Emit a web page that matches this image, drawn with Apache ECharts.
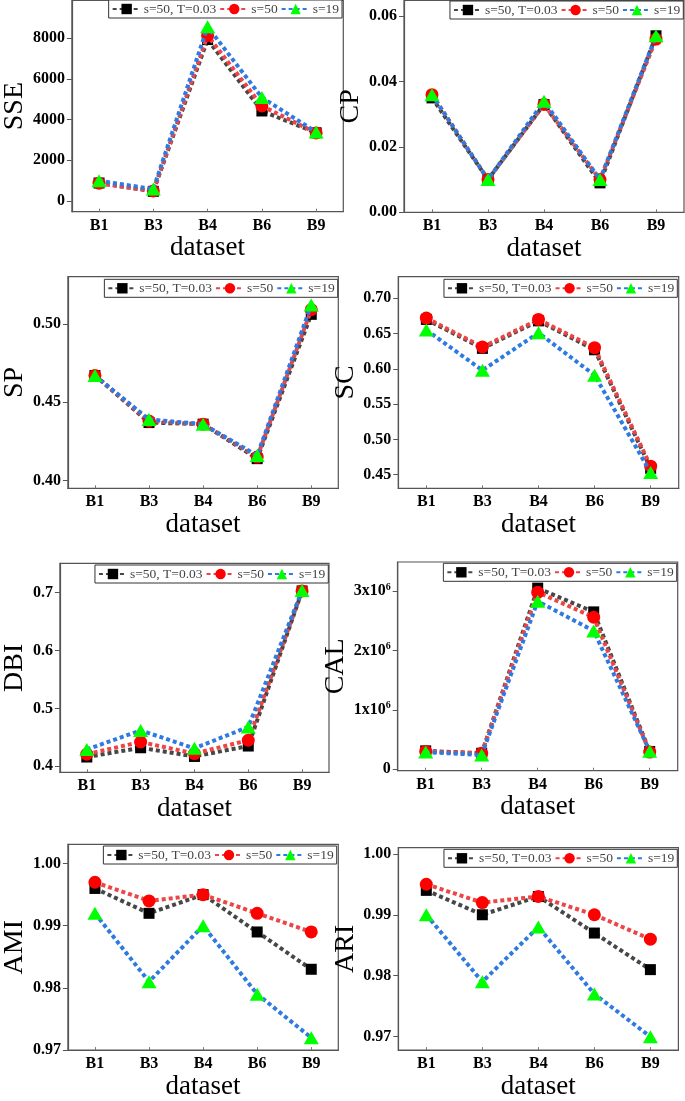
<!DOCTYPE html>
<html>
<head>
<meta charset="utf-8">
<script src="https://cdn.jsdelivr.net/npm/echarts@6/dist/echarts.min.js"></script>
<style>
html,body{margin:0;padding:0;background:#fff;}
#c{width:685px;height:1101px;}
</style>
</head>
<body>
<div id="c"></div>
<script>
const categories = ['B1','B3','B4','B6','B9'];
const seriesNames = ['s=50, T=0.03','s=50','s=19'];

const sseA = [880, 470, 7930, 4420, 3350];
const sseB = [870, 490, 8130, 4670, 3340];
const sseC = [990, 580, 8560, 5080, 3390];
const sseTicks = [0, 2000, 4000, 6000, 8000];

const cpA = [0.035, 0.010, 0.033, 0.009, 0.054];
const cpB = [0.036, 0.010, 0.033, 0.010, 0.053];
const cpC = [0.036, 0.010, 0.034, 0.010, 0.054];
const cpTicks = [0, 0.02, 0.04, 0.06];

const spA = [0.467, 0.437, 0.436, 0.414, 0.506];
const spB = [0.467, 0.438, 0.436, 0.415, 0.509];
const spC = [0.467, 0.439, 0.436, 0.416, 0.512];
const spTicks = [0.40, 0.45, 0.50];

const scA = [0.670, 0.629, 0.668, 0.627, 0.459];
const scB = [0.672, 0.631, 0.670, 0.630, 0.462];
const scC = [0.655, 0.598, 0.651, 0.591, 0.453];
const scTicks = [0.45, 0.50, 0.55, 0.60, 0.65, 0.70];

const dbiA = [0.416, 0.432, 0.417, 0.435, 0.703];
const dbiB = [0.421, 0.442, 0.422, 0.445, 0.703];
const dbiC = [0.429, 0.462, 0.431, 0.468, 0.704];
const dbiTicks = [0.4, 0.5, 0.6, 0.7];

const calA = [310000, 270000, 3050000, 2650000, 300000];
const calB = [300000, 270000, 2980000, 2560000, 290000];
const calC = [290000, 240000, 2830000, 2330000, 305000];
const calTicks = [0, 1000000, 2000000, 3000000];

const amiA = [0.996, 0.992, 0.995, 0.989, 0.983];
const amiB = [0.997, 0.994, 0.995, 0.992, 0.989];
const amiC = [0.992, 0.981, 0.990, 0.979, 0.972];
const amiTicks = [0.97, 0.98, 0.99, 1.00];

const ariA = [0.994, 0.990, 0.993, 0.987, 0.981];
const ariB = [0.995, 0.992, 0.993, 0.990, 0.986];
const ariC = [0.990, 0.979, 0.988, 0.977, 0.970];
const ariTicks = [0.97, 0.98, 0.99, 1.00];

const FONT = '"Liberation Serif","Times New Roman",serif';

const fix = d => v => v.toFixed(d);
const calFmt = v => v === 0 ? '{a|0}' : '{a|' + Math.round(v/1e6) + 'x10}{s|6}';

const panels = [
  {name:'SSE', data:[sseA,sseB,sseC], ticks:sseTicks, min:-530, max:9850, fmt:v=>String(v),
   grid:{left:57.3, top:0.5, right:343.3, bottom:211.7}, nameGap:33, legend:{right:343, top:0}},
  {name:'CP', data:[cpA,cpB,cpC], ticks:cpTicks, min:0, max:0.0648, fmt:fix(2),
   grid:{left:404, top:0.5, right:684, bottom:212.3}, nameGap:32, legend:{right:1.7, top:1}},
  {name:'SP', data:[spA,spB,spC], ticks:spTicks, min:0.3951, max:0.530, fmt:fix(2),
   grid:{left:57.3, top:276.7, right:338.3, bottom:488.3}, nameGap:29, legend:{right:347.3, top:279.3}},
  {name:'SC', data:[scA,scB,scC], ticks:scTicks, min:0.4307, max:0.7306, fmt:fix(2),
   grid:{left:398.3, top:276.7, right:678.7, bottom:488.3}, nameGap:30, legend:{right:7.7, top:279.3}},
  {name:'DBI', data:[dbiA,dbiB,dbiC], ticks:dbiTicks, min:0.3896, max:0.7508, fmt:fix(1),
   grid:{left:50.7, top:563.3, right:329, bottom:772.3}, nameGap:22, legend:{right:356.7, top:565}},
  {name:'CAL', data:[calA,calB,calC], ticks:calTicks, min:-24000, max:3490000, fmt:calFmt,
   grid:{left:397.7, top:562, right:677.7, bottom:770.7}, nameGap:37, legend:{right:8.3, top:563.3}},
  {name:'AMI', data:[amiA,amiB,amiC], ticks:amiTicks, min:0.97, max:1.0031, fmt:fix(2),
   grid:{left:57.7, top:844.3, right:338.3, bottom:1055.7}, nameGap:29, legend:{right:348.3, top:846}},
  {name:'ARI', data:[ariA,ariB,ariC], ticks:ariTicks, min:0.9678, max:1.001, fmt:fix(2),
   grid:{left:398.3, top:847.7, right:678.4, bottom:1056.7}, nameGap:29, legend:{right:7.7, top:849.3}}
];

const styles = [
  {line:'#474747', mark:'#000000', symbol:'rect', size:11},
  {line:'#ee4444', mark:'#ff0000', symbol:'circle', size:13},
  {line:'#2d7be2', mark:'#00ff00', symbol:'triangle', size:[15,13]}
];

const grids = [], xAxes = [], yAxes = [], series = [], legends = [];
panels.forEach((p, i) => {
  grids.push({
    left: p.grid.left, top: p.grid.top,
    width: p.grid.right - p.grid.left, height: p.grid.bottom - p.grid.top,
    show: true, borderColor: '#555', borderWidth: 1.2, backgroundColor: 'transparent'
  });
  xAxes.push({
    type: 'category', gridIndex: i, data: categories, boundaryGap: true,
    name: 'dataset', nameLocation: 'middle', nameGap: 22,
    nameTextStyle: {fontFamily: FONT, fontSize: 27, color: '#000'},
    axisLine: {onZero: false, lineStyle: {color: '#555', width: 1.2}},
    axisTick: {show: true, inside: true, length: 3, alignWithLabel: true, lineStyle: {color: '#777'}},
    axisLabel: {fontFamily: FONT, fontSize: 16, fontWeight: 'bold', color: '#000', margin: 6},
    splitLine: {show: false}
  });
  const rich = {
    a: {fontFamily: FONT, fontSize: 16, fontWeight: 'bold', color: '#000', lineHeight: 18},
    s: {fontFamily: FONT, fontSize: 10, fontWeight: 'bold', color: '#000', verticalAlign: 'top', lineHeight: 18, padding:[0,0,6,0]}
  };
  yAxes.push({
    type: 'value', gridIndex: i, min: p.min, max: p.max,
    name: p.name, nameLocation: 'middle', nameGap: p.nameGap,
    nameTextStyle: {fontFamily: FONT, fontSize: 28, color: '#000'},
    axisLine: {show: true, onZero: false, lineStyle: {color: '#555', width: 1.2}},
    axisTick: {show: true, inside: false, length: 5, customValues: p.ticks, lineStyle: {color: '#555'}},
    axisLabel: {fontFamily: FONT, fontSize: 16, fontWeight: 'bold', color: '#000', margin: 7,
                customValues: p.ticks, formatter: p.fmt, rich: p.name === 'CAL' ? rich : undefined},
    splitLine: {show: false}
  });
  p.data.forEach((d, k) => {
    const s = styles[k];
    series.push({
      type: 'line', name: seriesNames[k], xAxisIndex: i, yAxisIndex: i, data: d,
      symbol: s.symbol, symbolSize: s.size, clip: false,
      itemStyle: {color: s.mark, opacity: 1},
      lineStyle: {color: s.line, width: 4, type: [4, 3], cap: 'butt'},
      z: 2 + k
    });
  });
  legends.push({
    data: seriesNames, right: p.legend.right, top: p.legend.top,
    orient: 'horizontal', itemWidth: 28, itemHeight: 13, itemGap: 3,
    padding: [2, 3], borderColor: '#333', borderWidth: 1, backgroundColor: '#fff',
    textStyle: {fontFamily: FONT, fontSize: 13.5, color: '#444', padding: [0, 0, 0, -2]},
    selectedMode: false
  });
});

const chart = echarts.init(document.getElementById('c'), null, {renderer: 'canvas'});
chart.setOption({
  animation: false,
  backgroundColor: '#fff',
  grid: grids, xAxis: xAxes, yAxis: yAxes, series: series, legend: legends
});
</script>
</body>
</html>
